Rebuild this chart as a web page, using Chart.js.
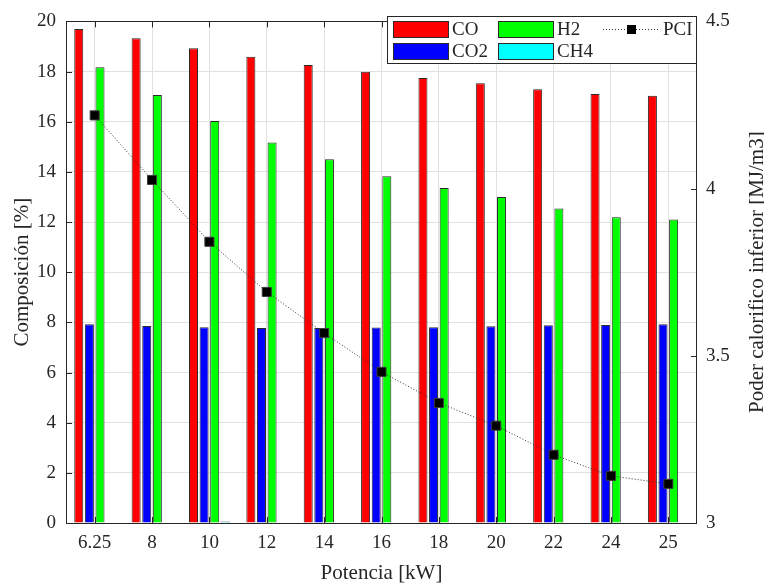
<!DOCTYPE html>
<html>
<head>
<meta charset="utf-8">
<script src="https://cdn.jsdelivr.net/npm/chart.js@4"></script>
<style>
  html, body { margin: 0; padding: 0; background: #fff; }
  #wrap { width: 764px; height: 586px; }
</style>
</head>
<body>
<div id="wrap"><canvas id="myChart" width="764" height="586"></canvas></div>
<script>
// Data
const potencia = ['6.25', '8', '10', '12', '14', '16', '18', '20', '22', '24', '25'];
const coValues  = [19.70, 19.33, 18.93, 18.59, 18.26, 17.99, 17.74, 17.53, 17.29, 17.11, 17.04];
const co2Values = [7.92, 7.85, 7.81, 7.78, 7.78, 7.80, 7.81, 7.84, 7.88, 7.89, 7.92];
const h2Values  = [18.17, 17.07, 16.03, 15.17, 14.50, 13.83, 13.36, 13.00, 12.54, 12.19, 12.10];
const ch4Values = [0, 0, 0.06, 0, 0, 0, 0, 0, 0, 0, 0];
const pciValues = [4.219, 4.026, 3.841, 3.691, 3.568, 3.452, 3.359, 3.291, 3.204, 3.141, 3.117];

const leftTicks  = [0, 2, 4, 6, 8, 10, 12, 14, 16, 18, 20];
const rightTicks = [3, 3.5, 4, 4.5];

const FONT = '"Liberation Serif", "Times New Roman", serif';
const TEXT = '#262626';
const GRID = '#e1e1e1';

// Function to build one bar dataset
function barSet(label, values, color) {
  return {
    type: 'bar',
    label: label,
    data: values,
    backgroundColor: color,
    borderColor: '#2a2a2a',
    borderWidth: 1,
    borderSkipped: 'start',
    yAxisID: 'y',
    order: 1,
    categoryPercentage: 0.74,
    barPercentage: 0.85
  };
}

// Plugin: box, inward ticks, legend and right title (MATLAB look)
const matlabFrame = {
  id: 'matlabFrame',
  afterDraw(chart) {
    const ctx = chart.ctx;
    const a = chart.chartArea;
    const x = chart.scales.x, y = chart.scales.y, y1 = chart.scales.y1;
    ctx.save();
    ctx.strokeStyle = TEXT;
    ctx.lineWidth = 1;
    ctx.beginPath();
    x.ticks.forEach((t, i) => {
      const px = Math.round(x.getPixelForTick(i)) + 0.5;
      ctx.moveTo(px, a.bottom); ctx.lineTo(px, a.bottom - 6);
      ctx.moveTo(px, a.top); ctx.lineTo(px, a.top + 6);
    });
    leftTicks.forEach(v => {
      const py = Math.round(y.getPixelForValue(v)) + 0.5;
      ctx.moveTo(a.left, py); ctx.lineTo(a.left + 6, py);
    });
    rightTicks.forEach(v => {
      const py = Math.round(y1.getPixelForValue(v)) + 0.5;
      ctx.moveTo(a.right, py); ctx.lineTo(a.right - 6, py);
    });
    ctx.stroke();
    ctx.strokeRect(Math.round(a.left) + 0.5, Math.round(a.top) + 0.5,
                   Math.round(a.right - a.left) - 1, Math.round(a.bottom - a.top));

    // legend box
    const ds = chart.data.datasets;
    const lx = 387, ly = 16, lw = 310, lh = 48;
    ctx.fillStyle = '#fff';
    ctx.fillRect(lx, ly, lw, lh);
    ctx.strokeRect(lx + 0.5, ly + 0.5, lw - 1, lh - 1);
    const cells = [
      { d: ds[0], x: 393, y: 29 }, { d: ds[1], x: 393, y: 51 },
      { d: ds[2], x: 498, y: 29 }, { d: ds[3], x: 498, y: 51 }
    ];
    ctx.font = '19px ' + FONT;
    ctx.textBaseline = 'middle';
    cells.forEach(c => {
      ctx.fillStyle = c.d.backgroundColor;
      ctx.fillRect(c.x, c.y - 8, 55, 16);
      ctx.strokeStyle = '#2a2a2a';
      ctx.strokeRect(c.x + 0.5, c.y - 7.5, 55, 16);
      ctx.fillStyle = TEXT;
      ctx.fillText(c.d.label, c.x + 59, c.y + 1);
    });
    // line entry
    ctx.strokeStyle = '#333';
    ctx.setLineDash([1, 2]);
    ctx.beginPath();
    ctx.moveTo(603, 29.5); ctx.lineTo(659, 29.5);
    ctx.stroke();
    ctx.setLineDash([]);
    ctx.fillStyle = '#000';
    ctx.fillRect(627, 25, 9, 9);
    ctx.fillStyle = TEXT;
    ctx.fillText(ds[4].label, 663, 30);

    // right axis title, reading upward
    ctx.translate(757, (a.top + a.bottom) / 2);
    ctx.rotate(-Math.PI / 2);
    ctx.textAlign = 'center';
    ctx.font = '21px ' + FONT;
    ctx.fillText('Poder calorifico inferior [MJ/m3]', 0, 0);
    ctx.restore();
  }
};

const data = {
  labels: potencia,
  datasets: [
    barSet('CO', coValues, '#ff0000'),
    barSet('CO2', co2Values, '#0000ff'),
    barSet('H2', h2Values, '#00ff00'),
    barSet('CH4', ch4Values, '#00ffff'),
    {
      type: 'line',
      label: 'PCI',
      data: pciValues,
      yAxisID: 'y1',
      order: 0,
      borderColor: '#333333',
      borderWidth: 1,
      borderDash: [1, 2],
      fill: false,
      tension: 0,
      pointStyle: 'rect',
      pointRadius: 6.4,
      pointBackgroundColor: '#000000',
      pointBorderColor: '#3a3a3a',
      pointBorderWidth: 1
    }
  ]
};

const config = {
  type: 'bar',
  data: data,
  options: {
    responsive: false,
    animation: false,
    layout: { padding: { top: 16, left: 0, right: 0, bottom: 0 } },
    plugins: {
      legend: { display: false },
      tooltip: { enabled: false },
      title: { display: false }
    },
    scales: {
      x: {
        offset: true,
        grid: { offset: false, color: GRID, drawTicks: false },
        border: { display: false },
        ticks: { color: TEXT, font: { family: FONT, size: 19 }, padding: 9 },
        title: { display: true, text: 'Potencia [kW]', color: TEXT,
                 font: { family: FONT, size: 21 }, padding: { top: 1, bottom: 0 } },
        afterFit: s => { s.height = 63; }
      },
      y: {
        position: 'left',
        min: 0, max: 20,
        afterBuildTicks: s => { s.ticks = leftTicks.map(v => ({ value: v })); },
        grid: { color: GRID, drawTicks: false },
        border: { display: false },
        ticks: { color: TEXT, font: { family: FONT, size: 19 }, padding: 10 },
        title: { display: true, text: 'Composición [%]', color: TEXT,
                 font: { family: FONT, size: 21 }, padding: { top: 10, bottom: 0 } },
        afterFit: s => { s.width = 66; }
      },
      y1: {
        position: 'right',
        min: 3, max: 4.5,
        afterBuildTicks: s => { s.ticks = rightTicks.map(v => ({ value: v })); },
        grid: { display: false, drawTicks: false },
        border: { display: false },
        ticks: { color: TEXT, font: { family: FONT, size: 19 }, padding: 9,
                 callback: v => String(v) },
        afterFit: s => { s.width = 67; }
      }
    }
  },
  plugins: [matlabFrame]
};

const myChart = new Chart(document.getElementById('myChart'), config);
</script>
</body>
</html>
